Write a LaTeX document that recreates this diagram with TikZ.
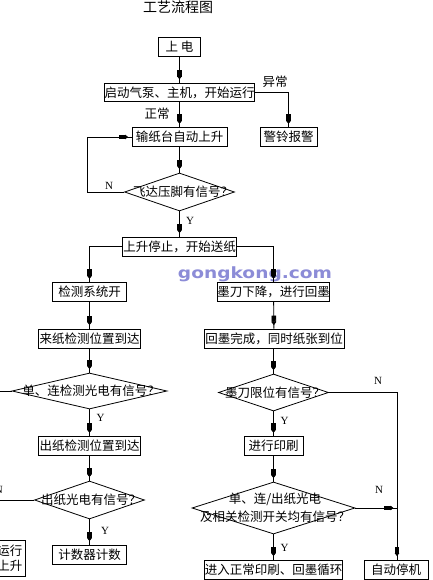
\documentclass[tikz,border=0pt]{standalone}
\usepackage{fontspec}
\setmainfont{Liberation Serif}
\newfontfamily\cjk{Noto Sans CJK SC}
\newfontfamily\wmfont{DejaVu Sans}
\usetikzlibrary{shapes.geometric,arrows.meta,decorations.markings}
\definecolor{wmblue}{RGB}{140,140,215}
\tikzset{
  blk/.tip={Rectangle[width=4.5pt,length=6.5pt] Triangle[width=4.5pt,length=3pt]},
  box/.style={draw, line width=0.8pt, inner sep=0pt, minimum height=18.5pt, font=\cjk\fontsize{12.5}{15}\selectfont},
  dia/.style={draw, diamond, line width=0.8pt, inner sep=0pt},
  dtext/.style={font=\cjk\fontsize{12.5}{18.5}\selectfont, inner sep=0pt},
  lbl/.style={font=\cjk\fontsize{12.5}{15}\selectfont, inner sep=0pt},
  yn/.style={font=\fontsize{11}{12}\selectfont, inner sep=0pt},
  conn/.style={line width=0.8pt},
  arr/.style={conn, postaction={decorate}, decoration={markings, mark=at position -3.5pt with {\arrow{blk}}}}
}
\begin{document}
\begin{tikzpicture}[x=1pt,y=-1pt]
\useasboundingbox (0,0) rectangle (432,580);
% watermark
\node[font=\wmfont\bfseries\fontsize{15.5}{15.5}\selectfont, text=wmblue, xscale=1.2, inner sep=0pt] (wm) at (255,274) {gongkong.com};
% title
\node[font=\cjk\fontsize{14}{16}\selectfont, inner sep=0pt] (title) at (178,7) {工艺流程图};
% main column
\node[box, minimum width=42pt, minimum height=19pt] (n1) at (179.5,46.5) {上 电};
\node[box, minimum width=146pt] (n2) at (179.5,92.5) {启动气泵、主机，开始运行};
\node[box, minimum width=57pt] (n3) at (288.5,137) {警铃报警};
\node[box, minimum width=95pt] (n4) at (179.5,137) {输纸台自动上升};
\node[dia, minimum width=110pt, minimum height=38pt] (d1) at (179.5,192) {};
\node[dtext] (d1t) at (183,192) {飞达压脚有信号？};
\node[box, minimum width=114pt, minimum height=19pt] (n5) at (179.5,246.5) {上升停止，开始送纸};
% left column
\node[box, minimum width=74pt] (n6) at (89.5,292) {检测系统开};
\node[box, minimum width=102pt, minimum height=19pt] (n8) at (89.5,338.5) {来纸检测位置到达};
\node[dia, minimum width=155pt, minimum height=36pt] (d2) at (89.5,391) {};
\node[dtext] (d2t) at (91,391) {单、连检测光电有信号？};
\node[box, minimum width=102pt] (n10) at (89.5,446) {出纸检测位置到达};
\node[dia, minimum width=110pt, minimum height=38pt] (d4) at (89.5,500) {};
\node[dtext] (d4t) at (91,500) {出纸光电有信号？};
\node[box, minimum width=74pt, minimum height=19pt] (n12) at (89.5,554.5) {计数器计数};
\node[box, minimum width=60pt, minimum height=36pt, text width=55pt, align=right, font=\cjk\fontsize{12.5}{15}\selectfont] (n13) at (-5,558) {运行\\上升};
% right column
\node[box, minimum width=112pt] (n7) at (273.5,292) {墨刀下降，进行回墨};
\node[box, minimum width=140pt, minimum height=19pt] (n9) at (274,338.5) {回墨完成，同时纸张到位};
\node[dia, minimum width=110pt, minimum height=37pt] (d3) at (273.5,392.5) {};
\node[dtext] (d3t) at (275,392.5) {墨刀限位有信号？};
\node[box, minimum width=59pt] (n11) at (273.5,446) {进行印刷};
\node[dia, minimum width=163pt, minimum height=52pt] (d5) at (273.5,508) {};
\node[dtext, align=center] (d5t) at (275,508) {单、连/出纸光电\\及相关检测开关均有信号？};
\node[box, minimum width=137pt, minimum height=19pt] (n14) at (273.5,569.5) {进入正常印刷、回墨循环};
\node[box, minimum width=64pt, minimum height=19pt] (n15) at (396,569.5) {自动停机};
% coordinates
\coordinate (l1) at (87,192);
\coordinate (r1) at (397,392.5);
\coordinate (e1) at (-5,391);
\coordinate (e2) at (-5,500);
% connectors
\draw[arr] (n1) -- (n2);
\draw[arr] (n2.east) -| (n3.north);
\draw[arr] (n2) -- (n4);
\draw[arr] (n4) -- (d1);
\draw[arr] (d1.west) -- (l1) |- (n4.west);
\draw[arr] (d1) -- (n5);
\draw[arr] (n5.west) -| (n6.north);
\draw[arr] (n5.east) -| (n7.north);
\draw[arr] (n6) -- (n8);
\draw[arr] (n8) -- (d2);
\draw[arr] (d2) -- (n10);
\draw[arr] (n10) -- (d4);
\draw[arr] (d4) -- (n12);
\draw[conn] (d2.west) -- (e1);
\draw[conn] (d4.west) -- (e2);
\draw[arr] (n7) -- (n9);
\draw[arr] (n9.south -| d3.north) -- (d3.north);
\draw[arr] (d3) -- (n11);
\draw[arr] (n11) -- (d5);
\draw[arr] (d5) -- (n14.north -| d5.south);
\draw[arr] (d3.east) -- (r1) -- (r1 |- n15.north);
\draw[arr] (d5.east) -- (d5.east -| r1);
% labels
\node[lbl] (t1) at (275,82) {异常};
\node[lbl] (t2) at (157,114) {正常};
\node[yn] (y1) at (109,186) {N};
\node[yn] (y2) at (190,221) {Y};
\node[yn] (y3) at (100.5,417.5) {Y};
\node[yn] (y4) at (378,381) {N};
\node[yn] (y5) at (284.5,421) {Y};
\node[yn, anchor=east] (y6) at (3,490) {N};
\node[yn] (y7) at (105,531) {Y};
\node[yn] (y8) at (379,490) {N};
\node[yn] (y9) at (284.5,548) {Y};
\end{tikzpicture}
\end{document}
